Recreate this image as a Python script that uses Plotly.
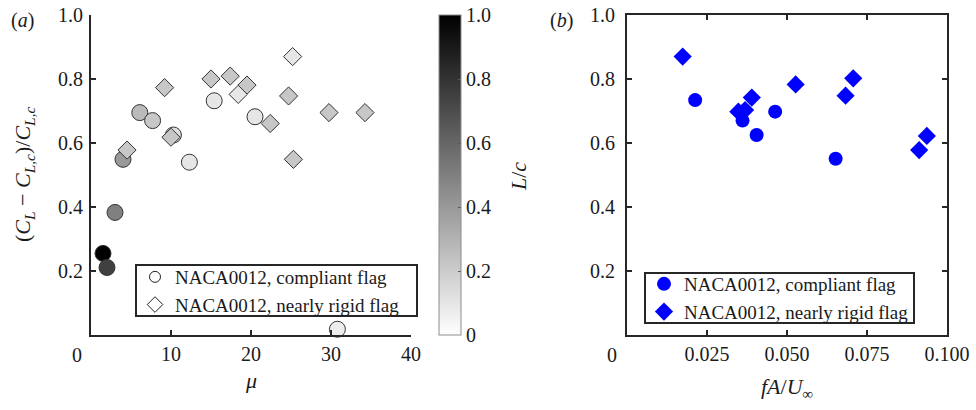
import plotly.graph_objects as go

# ---------------- data ----------------
# panel (a): relative lift change vs mass ratio, coloured by L/c
mu_compliant = [4.0, 6.1, 7.7, 10.3, 12.3, 15.4, 20.5, 3.0, 1.5, 2.0, 30.8]
dcl_compliant = [0.549, 0.695, 0.670, 0.625, 0.540, 0.732, 0.682, 0.383, 0.255, 0.211, 0.018]
lc_compliant = [0.40, 0.27, 0.22, 0.13, 0.10, 0.10, 0.10, 0.50, 1.00, 0.75, 0.07]

mu_rigid = [4.5, 9.2, 10.0, 15.0, 17.4, 19.5, 18.4, 25.2, 24.7, 22.4, 25.3, 29.75, 34.25]
dcl_rigid = [0.578, 0.773, 0.618, 0.800, 0.809, 0.781, 0.752, 0.870, 0.747, 0.661, 0.549, 0.695, 0.695]
lc_rigid = [0.22, 0.22, 0.22, 0.22, 0.22, 0.22, 0.10, 0.10, 0.22, 0.22, 0.22, 0.22, 0.22]

# panel (b): relative lift change vs fA/U
fa_compliant = [0.0213, 0.0361, 0.0405, 0.0463, 0.0652]
dclb_compliant = [0.734, 0.670, 0.625, 0.698, 0.551]
fa_rigid = [0.0174, 0.0348, 0.0369, 0.0390, 0.0527, 0.0683, 0.0707, 0.0913, 0.0937]
dclb_rigid = [0.870, 0.698, 0.703, 0.742, 0.783, 0.748, 0.802, 0.578, 0.622]

y_ticks = [0.2, 0.4, 0.6, 0.8, 1.0]
xa_ticks = [10, 20, 30, 40]
xb_ticks = [0.025, 0.05, 0.075, 0.1]
cb_ticks = [0, 0.2, 0.4, 0.6, 0.8, 1.0]
cb_text = ["0", "0.2", "0.4", "0.6", "0.8", "1.0"]
legend_names = ["NACA0012, compliant flag", "NACA0012, nearly rigid flag"]

# ---------------- layout helpers ----------------
# the page body margin is removed (post_script), so the figure fills the window
W, H = 976, 410
def px(x):
    return x / W
def py(y):
    return (H - y) / H

FONT = "Liberation Serif"
AX = "#262626"
TXT = "#1a1a1a"

fig = go.Figure()

# panel (a) data
fig.add_trace(go.Scatter(
    x=mu_compliant, y=dcl_compliant, mode="markers", xaxis="x", yaxis="y",
    marker=dict(symbol="circle", size=16, color=lc_compliant, coloraxis="coloraxis",
                line=dict(color="#333333", width=1)),
    showlegend=False, cliponaxis=False))
fig.add_trace(go.Scatter(
    x=mu_rigid, y=dcl_rigid, mode="markers", xaxis="x", yaxis="y",
    marker=dict(symbol="diamond", size=14, color=lc_rigid, coloraxis="coloraxis",
                line=dict(color="#333333", width=1)),
    showlegend=False, cliponaxis=False))
# legend entries for panel (a)
fig.add_trace(go.Scatter(
    x=[None], y=[None], mode="markers", xaxis="x", yaxis="y", name=legend_names[0],
    marker=dict(symbol="circle", size=11, color="white", line=dict(color="#222", width=1)),
    legend="legend"))
fig.add_trace(go.Scatter(
    x=[None], y=[None], mode="markers", xaxis="x", yaxis="y", name=legend_names[1],
    marker=dict(symbol="diamond", size=12, color="white", line=dict(color="#222", width=1)),
    legend="legend"))

# panel (b) data
fig.add_trace(go.Scatter(
    x=fa_compliant, y=dclb_compliant, mode="markers", xaxis="x2", yaxis="y2",
    name=legend_names[0], legend="legend2",
    marker=dict(symbol="circle", size=14, color="#0000ff")))
fig.add_trace(go.Scatter(
    x=fa_rigid, y=dclb_rigid, mode="markers", xaxis="x2", yaxis="y2",
    name=legend_names[1], legend="legend2",
    marker=dict(symbol="diamond", size=14, color="#0000ff")))

axis_common = dict(showline=True, linewidth=2, linecolor=AX, ticks="inside", ticklen=5,
                   tickwidth=1.5, tickcolor=AX, showgrid=False, zeroline=False,
                   ticklabeloverflow="allow",
                   tickfont=dict(family=FONT, size=20, color=TXT))

legend_common = dict(xanchor="left", yanchor="top", bgcolor="rgba(0,0,0,0)",
                     borderwidth=0, font=dict(family=FONT, size=19, color=TXT),
                     tracegroupgap=0, itemwidth=30)

fig.update_layout(
    width=W, height=H, margin=dict(l=0, r=0, t=0, b=0, autoexpand=False),
    paper_bgcolor="white", plot_bgcolor="white",
    font=dict(family=FONT, size=20, color=TXT),
    xaxis=dict(domain=[px(91), px(411)], range=[0, 40], tickvals=xa_ticks,
               anchor="y", ticklabelstandoff=0, **axis_common),
    yaxis=dict(domain=[py(335), py(15)], range=[0, 1], tickvals=y_ticks, tickformat=".1f",
               anchor="x", ticklabelstandoff=2, **axis_common),
    xaxis2=dict(domain=[px(627), px(947)], range=[0, 0.1], tickvals=xb_ticks, tickformat=".3f",
                anchor="y2", mirror="ticks", ticklabelstandoff=0, **axis_common),
    yaxis2=dict(domain=[py(335), py(15)], range=[0, 1], tickvals=y_ticks, tickformat=".1f",
                anchor="x2", mirror="ticks", ticklabelstandoff=6, **axis_common),
    coloraxis=dict(
        cmin=0, cmax=1,
        colorscale=[[0, "#ffffff"], [1, "#000000"]],
        colorbar=dict(
            x=px(439), xanchor="left", xpad=0, xref="paper",
            y=py(175), yanchor="middle", ypad=0, yref="paper",
            thickness=22, lenmode="pixels", len=320,
            outlinecolor="#8c8c8c", outlinewidth=1,
            tickvals=cb_ticks, ticktext=cb_text, ticks="inside", ticklen=3,
            ticklabeloverflow="allow",
            tickcolor="#555", tickfont=dict(family=FONT, size=20, color=TXT),
        )),
    legend=dict(x=px(135), y=py(258), **legend_common),
    legend2=dict(x=px(644), y=py(265), **legend_common),
)

# legend frames
for (x0, y0, x1, y1) in [(136, 265, 417, 316), (645, 273, 914, 323)]:
    fig.add_shape(type="rect", xref="paper", yref="paper",
                  x0=px(x0), x1=px(x1), y0=py(y1), y1=py(y0),
                  fillcolor="white", line=dict(color=AX, width=2), layer="above")

ann = [
    dict(text="(<i>a</i>)", x=px(22), y=py(20)),
    dict(text="(<i>b</i>)", x=px(561), y=py(20)),
    dict(text="0", x=px(77), y=py(355)),
    dict(text="0", x=px(612), y=py(355)),
    dict(text="<i>μ</i>", x=px(251), y=py(380), size=22),
    dict(text="<i>fA</i>/<i>U</i><sub>∞</sub>", x=px(787), y=py(388), size=22),
    dict(text="(<i>C<sub>L</sub></i> − <i>C<sub>L,c</sub></i>)/<i>C<sub>L,c</sub></i>",
         x=px(24), y=py(175), angle=-90, size=22),
    dict(text="<i>L</i>/<i>c</i>", x=px(518), y=py(177), angle=-90, size=22),
]
for a in ann:
    fig.add_annotation(text=a["text"], x=a["x"], y=a["y"], xref="paper", yref="paper",
                       showarrow=False, xanchor="center", yanchor="middle",
                       textangle=a.get("angle", 0),
                       font=dict(family=FONT, size=a.get("size", 20), color=TXT))

fig.write_html("out.html",
               config={"displayModeBar": False},
               post_script="document.body.style.margin='0';document.body.style.overflow='hidden';")
